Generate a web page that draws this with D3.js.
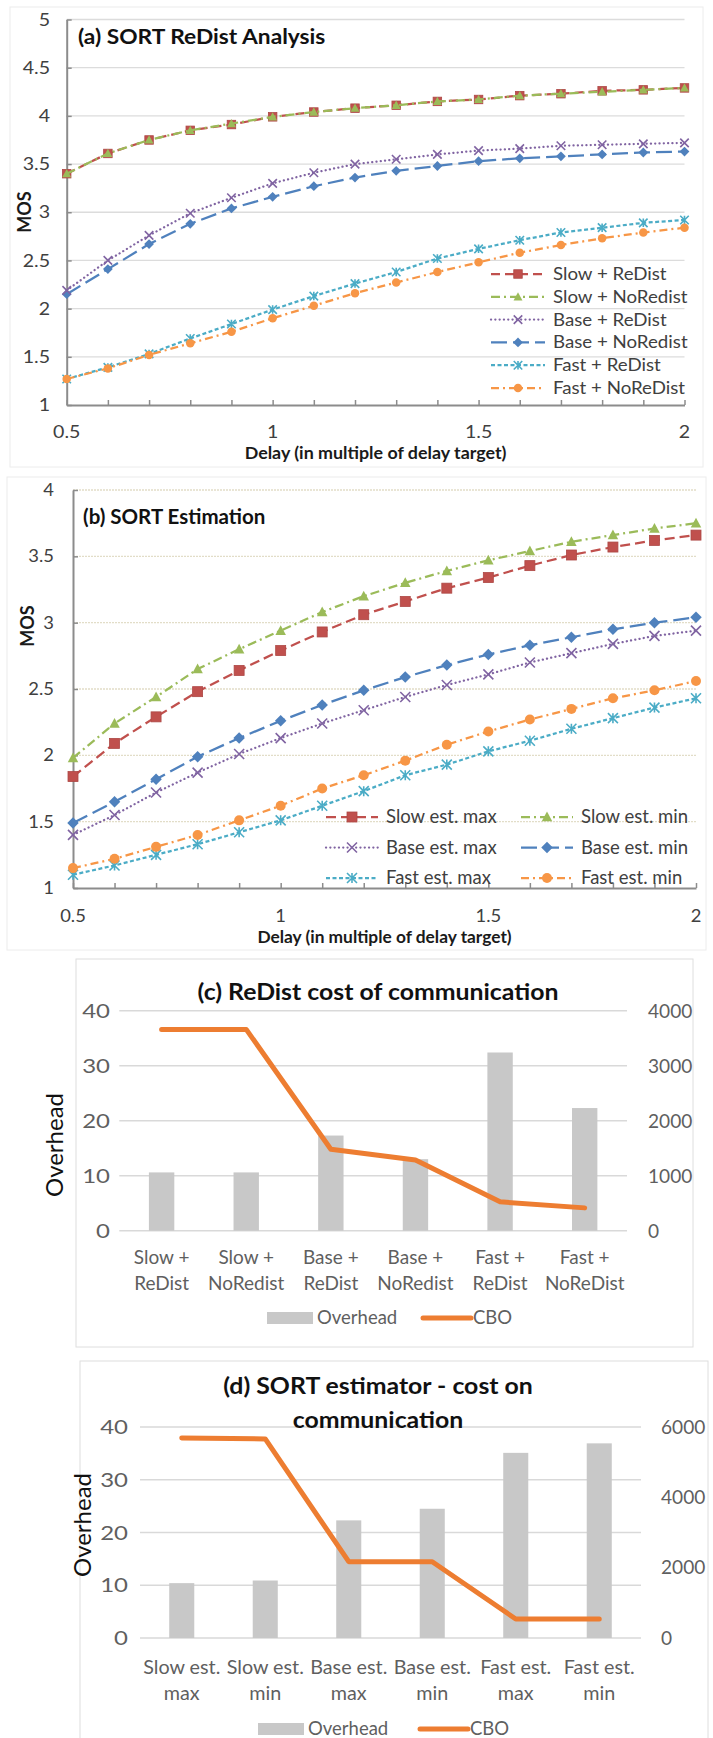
<!DOCTYPE html>
<html>
<head>
<meta charset="utf-8">
<script src="https://cdn.jsdelivr.net/npm/d3@7"></script>
<style>
  html, body { margin: 0; padding: 0; background: #fff; }
  svg { display: block; font-family: Lato, "Open Sans", sans-serif; }
</style>
</head>
<body>
<svg id="fig" width="713" height="1738"></svg>
<script>
// ---------- data ----------
const delays = [0.5, 0.6, 0.7, 0.8, 0.9, 1.0, 1.1, 1.2, 1.3, 1.4, 1.5, 1.6, 1.7, 1.8, 1.9, 2.0];
const delayLabels = [0.5, 1, 1.5, 2];

// (a) SORT ReDist analysis — MOS per delay
const slowReDist   = [3.40, 3.61, 3.75, 3.85, 3.91, 3.99, 4.04, 4.08, 4.11, 4.15, 4.17, 4.21, 4.23, 4.26, 4.27, 4.29];
const slowNoRedist = [3.40, 3.61, 3.75, 3.85, 3.92, 3.99, 4.04, 4.08, 4.11, 4.15, 4.17, 4.21, 4.23, 4.25, 4.27, 4.29];
const baseReDist   = [2.19, 2.50, 2.76, 2.99, 3.15, 3.30, 3.41, 3.50, 3.55, 3.60, 3.64, 3.66, 3.69, 3.70, 3.71, 3.72];
const baseNoRedist = [2.15, 2.41, 2.67, 2.88, 3.04, 3.16, 3.27, 3.36, 3.43, 3.48, 3.53, 3.56, 3.58, 3.60, 3.62, 3.63];
const fastReDist   = [1.27, 1.39, 1.53, 1.69, 1.84, 1.99, 2.13, 2.26, 2.38, 2.52, 2.62, 2.71, 2.79, 2.84, 2.89, 2.92];
const fastNoReDist = [1.27, 1.38, 1.52, 1.64, 1.76, 1.90, 2.03, 2.16, 2.27, 2.38, 2.48, 2.58, 2.66, 2.73, 2.79, 2.84];
const mosTicksA = [1, 1.5, 2, 2.5, 3, 3.5, 4, 4.5, 5];

// (b) SORT estimation — MOS per delay
const slowEstMax = [1.84, 2.09, 2.29, 2.48, 2.64, 2.79, 2.93, 3.06, 3.16, 3.26, 3.34, 3.43, 3.51, 3.57, 3.62, 3.66];
const slowEstMin = [1.98, 2.24, 2.44, 2.65, 2.80, 2.94, 3.08, 3.20, 3.30, 3.39, 3.47, 3.54, 3.61, 3.66, 3.71, 3.75];
const baseEstMax = [1.40, 1.55, 1.72, 1.87, 2.01, 2.13, 2.24, 2.34, 2.44, 2.53, 2.61, 2.70, 2.77, 2.84, 2.90, 2.94];
const baseEstMin = [1.49, 1.65, 1.82, 1.99, 2.13, 2.26, 2.38, 2.49, 2.59, 2.68, 2.76, 2.83, 2.89, 2.95, 3.00, 3.04];
const fastEstMax = [1.10, 1.17, 1.25, 1.33, 1.42, 1.51, 1.62, 1.73, 1.85, 1.93, 2.03, 2.11, 2.20, 2.28, 2.36, 2.43];
const fastEstMin = [1.15, 1.22, 1.31, 1.40, 1.51, 1.62, 1.75, 1.85, 1.96, 2.08, 2.18, 2.27, 2.35, 2.43, 2.49, 2.56];
const mosTicksB = [1, 1.5, 2, 2.5, 3, 3.5, 4];

// (c) ReDist cost of communication
const redistCategories = [["Slow +", "ReDist"], ["Slow +", "NoRedist"], ["Base +", "ReDist"],
                          ["Base +", "NoRedist"], ["Fast +", "ReDist"], ["Fast +", "NoReDist"]];
const redistOverhead = [10.6, 10.6, 17.3, 13.0, 32.4, 22.3];
const redistCBO      = [3660, 3660, 1480, 1285, 525, 415];
const overheadTicks  = [0, 10, 20, 30, 40];
const cboTicksC      = [0, 1000, 2000, 3000, 4000];

// (d) SORT estimator - cost on communication
const estCategories = [["Slow est.", "max"], ["Slow est.", "min"], ["Base est.", "max"],
                       ["Base est.", "min"], ["Fast est.", "max"], ["Fast est.", "min"]];
const estOverhead = [10.4, 10.9, 22.3, 24.5, 35.1, 36.9];
const estCBO      = [5690, 5660, 2170, 2170, 540, 540];
const cboTicksD   = [0, 2000, 4000, 6000];

// ---------- styling ----------
const RED = "#C0504D", GREEN = "#9BBB59", PURPLE = "#8064A2",
      BLUE = "#4F81BD", TEAL = "#4BACC6", ORANGE = "#F79646";
const AXIS = "#8c8c8c", INK = "#404040", GREY_TXT = "#5f5f5f";
const BAR = "#c8c8c8", CBO_LINE = "#ED7D31";

const svg = d3.select("#fig");

// text centred vertically on y; sx widens the glyphs horizontally about the anchor
function label(g, x, y, str, o = {}) {
  const size = o.size || 16;
  const sx = o.sx || 1;
  const t = g.append("text")
    .attr("font-size", size)
    .attr("font-weight", o.weight || "normal")
    .attr("fill", o.color || INK)
    .attr("text-anchor", o.anchor || "middle")
    .text(str);
  if (o.rotate) {
    t.attr("transform", `translate(${x},${y}) rotate(${o.rotate})`).attr("y", size * 0.35);
  } else {
    t.attr("transform", `translate(${x},${y + size * 0.35}) scale(${sx},1)`);
  }
  return t;
}

function frame(x0, y0, x1, y1, color) {
  svg.append("rect").attr("x", x0).attr("y", y0)
    .attr("width", x1 - x0).attr("height", y1 - y0)
    .attr("fill", "none").attr("stroke", color).attr("stroke-width", 1);
}

function marker(g, type, cx, cy, s, color) {
  const h = s / 2;
  switch (type) {
    case "square":
      g.append("rect").attr("x", cx - h).attr("y", cy - h).attr("width", s).attr("height", s)
        .attr("fill", color).attr("stroke", d3.color(color).darker(0.3)).attr("stroke-width", 0.8);
      break;
    case "triangle":
      g.append("path").attr("d", `M${cx},${cy - h * 1.1}L${cx + h * 1.05},${cy + h * 0.85}L${cx - h * 1.05},${cy + h * 0.85}Z`)
        .attr("fill", color);
      break;
    case "diamond":
      g.append("path").attr("d", `M${cx},${cy - h * 1.15}L${cx + h * 1.15},${cy}L${cx},${cy + h * 1.15}L${cx - h * 1.15},${cy}Z`)
        .attr("fill", color);
      break;
    case "circle":
      g.append("circle").attr("cx", cx).attr("cy", cy).attr("r", h).attr("fill", color);
      break;
    case "x":
      g.append("path").attr("d", `M${cx - h},${cy - h}L${cx + h},${cy + h}M${cx + h},${cy - h}L${cx - h},${cy + h}`)
        .attr("stroke", color).attr("stroke-width", 1.6).attr("fill", "none");
      break;
    case "star":
      g.append("path").attr("d", `M${cx - h},${cy - h}L${cx + h},${cy + h}M${cx + h},${cy - h}L${cx - h},${cy + h}M${cx},${cy - h}L${cx},${cy + h}`)
        .attr("stroke", color).attr("stroke-width", 1.6).attr("fill", "none");
      break;
  }
}

// ---------- line panels (a), (b) ----------
function linePanel(cfg) {
  const g = svg.append("g");
  const x = d3.scaleLinear().domain([delays[0], delays[delays.length - 1]]).range([cfg.x0, cfg.x1]);
  const y = d3.scaleLinear().domain(d3.extent(cfg.yTicks)).range([cfg.y0, cfg.y1]);

  g.selectAll("line.grid").data(cfg.yTicks.slice(1)).join("line")
    .attr("class", "grid")
    .attr("x1", cfg.x0).attr("x2", cfg.x1)
    .attr("y1", d => y(d)).attr("y2", d => y(d))
    .attr("stroke", cfg.gridColor).attr("stroke-width", 1.3)
    .attr("stroke-dasharray", cfg.gridDash || null);

  const ax = g.append("g").attr("transform", `translate(0,${cfg.y0})`)
    .call(d3.axisBottom(x).tickValues(delays).tickSize(-5).tickSizeOuter(0).tickFormat(""));
  const ay = g.append("g").attr("transform", `translate(${cfg.x0},0)`)
    .call(d3.axisLeft(y).tickValues(cfg.yTicks).tickSize(-5).tickSizeOuter(0).tickFormat(""));
  [ax, ay].forEach(a => {
    a.select(".domain").attr("stroke", AXIS).attr("stroke-width", 2);
    a.selectAll(".tick line").attr("stroke", AXIS).attr("stroke-width", 1.5);
  });

  cfg.yTicks.forEach(v => label(g, cfg.yLabelX, y(v), String(v), { size: cfg.tickSize, anchor: "end", sx: cfg.tickSx }));
  delayLabels.forEach(v => label(g, x(v), cfg.xLabelY, String(v), { size: cfg.tickSize, sx: cfg.tickSx }));
  label(g, (cfg.x0 + cfg.x1) / 2, cfg.xTitleY, "Delay (in multiple of delay target)",
    { size: 17, weight: "bold", color: "#1a1a1a", sx: cfg.xTitleSx });
  label(g, cfg.mosX, cfg.mosY, "MOS", { size: 18, weight: "bold", color: "#1a1a1a", rotate: -90 });
  label(g, cfg.titleX, cfg.titleY, cfg.title, { size: 20.5, weight: "bold", color: "#111", anchor: "start", sx: cfg.titleSx });

  const line = d3.line().x((d, i) => x(delays[i])).y(d => y(d));
  cfg.drawOrder.forEach(s => {
    const sg = g.append("g");
    sg.append("path").datum(s.values).attr("d", line)
      .attr("fill", "none").attr("stroke", s.color).attr("stroke-width", 2.25)
      .attr("stroke-dasharray", s.dash).attr("stroke-linecap", s.cap || "butt");
    s.values.forEach((v, i) => marker(sg, s.marker, x(delays[i]), y(v), cfg.markerSize, s.color));
  });

  // legend
  cfg.legend.forEach(item => {
    const lg = g.append("g");
    lg.append("line").attr("x1", item.lx0).attr("x2", item.lx1).attr("y1", item.ly).attr("y2", item.ly)
      .attr("stroke", item.s.color).attr("stroke-width", 2.25)
      .attr("stroke-dasharray", item.s.dash).attr("stroke-linecap", item.s.cap || "butt");
    marker(lg, item.s.marker, (item.lx0 + item.lx1) / 2, item.ly, cfg.markerSize, item.s.color);
    label(lg, item.tx, item.ly, item.s.name, { size: cfg.legendSize, anchor: "start", sx: cfg.legendSx });
  });
}

// panel (a)
frame(10, 7, 703, 467, "#ececec");
{
  const S = {
    slowRe:   { name: "Slow + ReDist",   values: slowReDist,   color: RED,    dash: "9,5",      marker: "square" },
    slowNo:   { name: "Slow + NoRedist", values: slowNoRedist, color: GREEN,  dash: "9,4,2,4",  marker: "triangle" },
    baseRe:   { name: "Base + ReDist",   values: baseReDist,   color: PURPLE, dash: "0.1,4.2",  marker: "x", cap: "round" },
    baseNo:   { name: "Base + NoRedist", values: baseNoRedist, color: BLUE,   dash: "16,6",     marker: "diamond" },
    fastRe:   { name: "Fast + ReDist",   values: fastReDist,   color: TEAL,   dash: "4,2.5",    marker: "star" },
    fastNo:   { name: "Fast + NoReDist", values: fastNoReDist, color: ORANGE, dash: "8,4,2,4",  marker: "circle" }
  };
  const order = [S.slowRe, S.slowNo, S.baseRe, S.baseNo, S.fastRe, S.fastNo];
  linePanel({
    x0: 66.7, x1: 684.5, y0: 405, y1: 19.5,
    yTicks: mosTicksA, gridColor: "#dcdcdc",
    yLabelX: 50, xLabelY: 432, xTitleY: 453, tickSize: 17.5, tickSx: 1.12,
    xTitleSx: 1.05, titleSx: 1.11, legendSx: 1.1,
    mosX: 25, mosY: 212,
    title: "(a) SORT ReDist Analysis", titleX: 78, titleY: 36.5,
    markerSize: 8.5, legendSize: 17,
    drawOrder: [S.baseNo, S.slowRe, S.slowNo, S.baseRe, S.fastRe, S.fastNo],
    legend: order.map((s, i) => ({ s, lx0: 491, lx1: 545, ly: 274 + i * 22.8, tx: 553 }))
  });
}

// panel (b)
frame(7, 477, 706, 950, "#ececec");
{
  const S = {
    slowMax: { name: "Slow est. max", values: slowEstMax, color: RED,    dash: "10,5",     marker: "square" },
    slowMin: { name: "Slow est. min", values: slowEstMin, color: GREEN,  dash: "9,4,2,4",  marker: "triangle" },
    baseMax: { name: "Base est. max", values: baseEstMax, color: PURPLE, dash: "0.1,4.2",  marker: "x", cap: "round" },
    baseMin: { name: "Base est. min", values: baseEstMin, color: BLUE,   dash: "16,6",     marker: "diamond" },
    fastMax: { name: "Fast est. max", values: fastEstMax, color: TEAL,   dash: "4,2.5",    marker: "star" },
    fastMin: { name: "Fast est. min", values: fastEstMin, color: ORANGE, dash: "8,4,2,4",  marker: "circle" }
  };
  const rows = [[S.slowMax, S.slowMin], [S.baseMax, S.baseMin], [S.fastMax, S.fastMin]];
  const legend = [];
  rows.forEach((r, i) => {
    const ly = 817 + i * 30.5;
    legend.push({ s: r[0], lx0: 326, lx1: 378, ly, tx: 386 });
    legend.push({ s: r[1], lx0: 521, lx1: 573, ly, tx: 581 });
  });
  linePanel({
    x0: 73, x1: 696, y0: 888, y1: 490,
    yTicks: mosTicksB, gridColor: "#e2ddc8", gridDash: "2,1",
    yLabelX: 54, xLabelY: 916, xTitleY: 937.5, tickSize: 17.5, tickSx: 1.05,
    xTitleSx: 1.02, titleSx: 1, legendSx: 1,
    mosX: 28, mosY: 626,
    title: "(b) SORT Estimation", titleX: 83, titleY: 516.5,
    markerSize: 10, legendSize: 18.5,
    drawOrder: [S.baseMin, S.slowMax, S.slowMin, S.baseMax, S.fastMax, S.fastMin],
    legend
  });
}

// ---------- combo panels (c), (d) ----------
function comboPanel(cfg) {
  const g = svg.append("g");
  const x = d3.scaleBand().domain(cfg.categories.map((c, i) => i)).range([cfg.x0, cfg.x1]);
  const y = d3.scaleLinear().domain([0, 40]).range([cfg.y0, cfg.y1]);
  const y2 = d3.scaleLinear().domain(d3.extent(cfg.rightTicks)).range([cfg.y0, cfg.y1]);

  g.selectAll("line.grid").data(overheadTicks).join("line")
    .attr("x1", cfg.x0).attr("x2", cfg.x1)
    .attr("y1", d => y(d)).attr("y2", d => y(d))
    .attr("stroke", "#d9d9d9").attr("stroke-width", 1.5);

  const bw = x.bandwidth() * 0.3;
  g.selectAll("rect.bar").data(cfg.overhead).join("rect")
    .attr("x", (d, i) => x(i) + x.bandwidth() / 2 - bw / 2)
    .attr("width", bw)
    .attr("y", d => y(d)).attr("height", d => cfg.y0 - y(d))
    .attr("fill", BAR);

  g.append("path").datum(cfg.cbo)
    .attr("d", d3.line().x((d, i) => x(i) + x.bandwidth() / 2).y(d => y2(d)))
    .attr("fill", "none").attr("stroke", CBO_LINE).attr("stroke-width", 5)
    .attr("stroke-linejoin", "round").attr("stroke-linecap", "round");

  overheadTicks.forEach(v => label(g, cfg.leftLabelX, y(v), String(v), { size: 20, anchor: "end", color: GREY_TXT, sx: 1.2 }));
  cfg.rightTicks.forEach(v => label(g, cfg.rightLabelX, y2(v), String(v), { size: 19.5, anchor: "start", color: GREY_TXT, sx: 0.98 }));

  cfg.categories.forEach((c, i) => {
    const cx = x(i) + x.bandwidth() / 2;
    label(g, cx, cfg.catY1, c[0], { size: 19, color: GREY_TXT, sx: cfg.catSx });
    label(g, cx, cfg.catY2, c[1], { size: 19, color: GREY_TXT, sx: cfg.catSx });
  });

  label(g, cfg.ovX, cfg.ovY, "Overhead", { size: 24, color: "#111", rotate: -90 });
  cfg.title.forEach((t, i) => label(g, cfg.titleX, cfg.titleY[i], t, { size: 23, weight: "bold", color: "#111", sx: 1.08 }));

  // legend
  const L = cfg.legend;
  g.append("rect").attr("x", L.rx).attr("y", L.y - 6).attr("width", 46).attr("height", 12).attr("fill", BAR);
  label(g, L.rx + 50, L.y, "Overhead", { size: 18.5, anchor: "start", color: GREY_TXT, sx: 1.0 });
  g.append("line").attr("x1", L.lx).attr("x2", L.lx + 48).attr("y1", L.y).attr("y2", L.y)
    .attr("stroke", CBO_LINE).attr("stroke-width", 5).attr("stroke-linecap", "round");
  label(g, L.lx + 50, L.y, "CBO", { size: 18.5, anchor: "start", color: GREY_TXT, sx: 1.0 });
}

frame(76, 959, 693, 1347, "#dedede");
comboPanel({
  categories: redistCategories, overhead: redistOverhead, cbo: redistCBO, rightTicks: cboTicksC,
  x0: 119.3, x1: 627, y0: 1230.7, y1: 1010.7,
  leftLabelX: 110, rightLabelX: 648, catSx: 1.0,
  catY1: 1257, catY2: 1283,
  ovX: 55, ovY: 1145,
  title: ["(c) ReDist cost of communication"], titleX: 378, titleY: [992],
  legend: { rx: 267, lx: 423, y: 1318 }
});

frame(80, 1361, 708, 1760, "#dedede");
comboPanel({
  categories: estCategories, overhead: estOverhead, cbo: estCBO, rightTicks: cboTicksD,
  x0: 140, x1: 641, y0: 1638, y1: 1427,
  leftLabelX: 128, rightLabelX: 661, catSx: 1.04,
  catY1: 1667, catY2: 1693,
  ovX: 83, ovY: 1525,
  title: ["(d) SORT estimator - cost on", "communication"], titleX: 378, titleY: [1386, 1420],
  legend: { rx: 258, lx: 420, y: 1729 }
});
</script>
</body>
</html>
